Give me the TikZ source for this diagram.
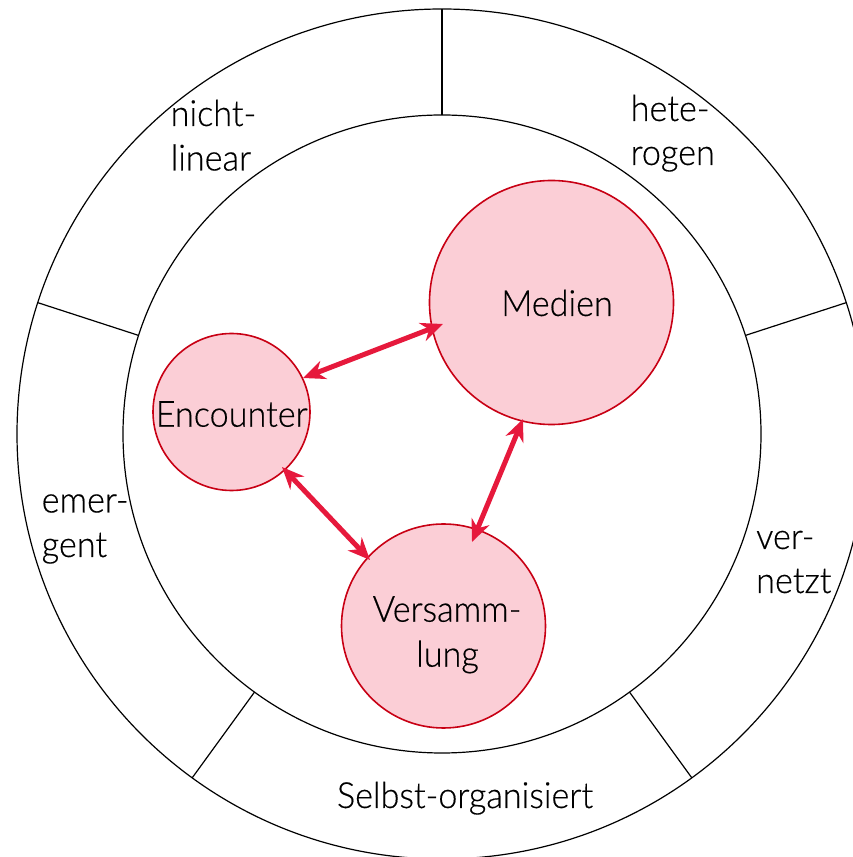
\documentclass[tikz,border=0pt]{standalone}
\usepackage{fontspec}
\setmainfont[FakeStretch=0.95,FakeBold=0.4]{Lato Light}
\usetikzlibrary{arrows.meta,calc}
\definecolor{bubfill}{RGB}{251,206,214}
\definecolor{bubline}{RGB}{200,0,20}
\definecolor{arrred}{RGB}{230,25,60}
\begin{document}
\begin{tikzpicture}[x=1pt,y=1pt,
  ring/.style={draw=black,line width=1.2pt},
  bubble/.style={circle,draw=bubline,fill=bubfill,line width=1.6pt,inner sep=0pt},
  lbl/.style={inner sep=0pt,font=\fontsize{36}{43}\selectfont,text=black},
  link/.style={draw=arrred,line width=5pt,{Stealth[length=22pt,width=19pt]}-{Stealth[length=22pt,width=19pt]}}]
\clip (0,0) rectangle (853,857);
\coordinate (c) at (442,423);
\draw[ring] (c) circle[radius=425];
\draw[ring] (c) circle[radius=319];
\foreach \a in {18,90,162,234,306}
  \draw[ring] ($(c)+(\a:319)$) -- ($(c)+(\a:425)$);
% segment labels
\node[lbl,anchor=base west] (l1a) at (170.5,731) {nicht-};
\node[lbl,anchor=base west] (l1b) at (170.5,686.5) {linear};
\node[lbl,anchor=base west] (l2a) at (630.5,736) {hete-};
\node[lbl,anchor=base west] (l2b) at (630.5,692) {rogen};
\node[lbl,anchor=base west] (l3a) at (41.5,344.5) {emer-};
\node[lbl,anchor=base west] (l3b) at (41.5,300) {gent};
\node[lbl,anchor=base west] (l4a) at (756,308) {ver-};
\node[lbl,anchor=base west] (l4b) at (756,264) {netzt};
\node[lbl,anchor=base] (l5) at (465,49) {Selbst-organisiert};
% bubbles
\node[bubble,minimum size=157pt] (enc) at (231.5,445) {};
\node[bubble,minimum size=244pt] (med) at (551.5,554.5) {};
\node[bubble,minimum size=204pt] (ver) at (443.5,231) {};
\node[lbl,anchor=base] (enct) at (231.7,430.3) {Encounter};
\node[lbl,anchor=base] (medt) at (557,541) {Medien};
\node[lbl,anchor=base] (vert1) at (447,235.3) {Versamm-};
\node[lbl,anchor=base] (vert2) at (447.5,190.3) {lung};
% links
\draw[link] ($(enc.center)+(71.5,34)$) -- ($(med.center)+(-108.5,-21.5)$);
\draw[link] ($(med.center)+(-28.5,-116.5)$) -- ($(ver.center)+(28.5,84)$);
\draw[link] ($(enc.center)+(50.5,-55)$) -- ($(ver.center)+(-73.5,66)$);
\end{tikzpicture}
\end{document}
